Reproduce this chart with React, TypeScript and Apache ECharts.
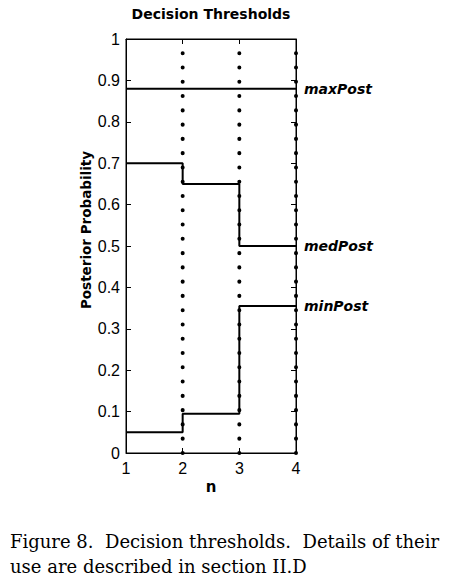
import React, { useEffect, useRef } from "react";
import * as echarts from "echarts";

const xCategories = [1, 2, 3, 4];
const maxPost = [0.88, 0.88, 0.88, 0.88];
const medPost = [0.7, 0.65, 0.5, 0.5];
const minPost = [0.05, 0.095, 0.355, 0.355];
const dottedX = [2, 3, 4];
const dotRange = [0, 1];
const seriesNames = ["maxPost", "medPost", "minPost"];
const captionLines = [
  "Figure 8.  Decision thresholds.  Details of their",
  "use are described in section II.D",
];

export default function App() {
  const ref = useRef<HTMLDivElement>(null);
  useEffect(() => {
    document.body.style.margin = "0";
    const chart = echarts.init(ref.current!, null, { renderer: "svg" });
    const stepSeries = [maxPost, medPost, minPost].map((vals, i) => ({
      type: "line",
      name: seriesNames[i],
      step: "end",
      showSymbol: false,
      symbol: "none",
      data: xCategories.map((x, j) => [x, vals[j]]),
      lineStyle: { color: "#000", width: 2 },
      z: 3,
      endLabel: {
        show: true,
        formatter: seriesNames[i],
        distance: 8,
        color: "#000",
        fontFamily: "DejaVu Sans",
        fontWeight: "bold",
        fontStyle: "italic",
        fontSize: 14,
      },
    }));
    const dotSeries = dottedX.map((x) => ({
      type: "line",
      showSymbol: false,
      symbol: "none",
      data: dotRange.map((y) => [x, y]),
      lineStyle: { color: "#000", width: 4, type: [0.1, 14.176], cap: "round" },
      z: 2,
    }));
    const tickAxisBase = {
      type: "value",
      axisLine: { show: true, onZero: false, lineStyle: { color: "#000", width: 1 } },
      axisTick: { show: true, inside: true, length: 5, lineStyle: { color: "#000" } },
      splitLine: { show: false },
    };
    chart.setOption({
      animation: false,
      backgroundColor: "#fff",
      grid: {
        left: 126,
        top: 39,
        width: 170,
        height: 414,
        show: true,
        borderColor: "#000",
        borderWidth: 1,
        backgroundColor: "transparent",
      },
      xAxis: [
        {
          ...tickAxisBase,
          min: 1,
          max: 4,
          interval: 1,
          axisLabel: { color: "#000", fontSize: 16, fontFamily: "Liberation Sans", margin: 7 },
        },
        {
          ...tickAxisBase,
          position: "top",
          min: 1,
          max: 4,
          interval: 1,
          axisLabel: { show: false },
        },
      ],
      yAxis: [
        {
          ...tickAxisBase,
          min: 0,
          max: 1,
          interval: 0.1,
          axisLabel: { color: "#000", fontSize: 16, fontFamily: "Liberation Sans", margin: 6 },
        },
        {
          ...tickAxisBase,
          position: "right",
          min: 0,
          max: 1,
          interval: 0.1,
          axisLabel: { show: false },
        },
      ],
      graphic: [
        {
          type: "text",
          x: 211,
          y: 14,
          style: {
            text: "Decision Thresholds",
            fill: "#000",
            font: "bold 14px 'DejaVu Sans'",
            align: "center",
            verticalAlign: "middle",
          },
        },
        {
          type: "text",
          x: 211,
          y: 487,
          style: {
            text: "n",
            fill: "#000",
            font: "bold 15px 'DejaVu Sans'",
            align: "center",
            verticalAlign: "middle",
          },
        },
        {
          type: "text",
          x: 86,
          y: 230,
          rotation: Math.PI / 2,
          style: {
            text: "Posterior Probability",
            fill: "#000",
            font: "bold 13.5px 'DejaVu Sans'",
            align: "center",
            verticalAlign: "middle",
          },
        },
        ...captionLines.map((t, i) => ({
          type: "text",
          x: 10,
          y: 541 + i * 25,
          style: {
            text: t,
            fill: "#000",
            font: "18px 'DejaVu Serif'",
            align: "left",
            verticalAlign: "middle",
          },
        })),
      ],
      series: [...dotSeries, ...stepSeries],
    });
    return () => chart.dispose();
  }, []);
  return <div ref={ref} style={{ width: 456, height: 583 }} />;
}
